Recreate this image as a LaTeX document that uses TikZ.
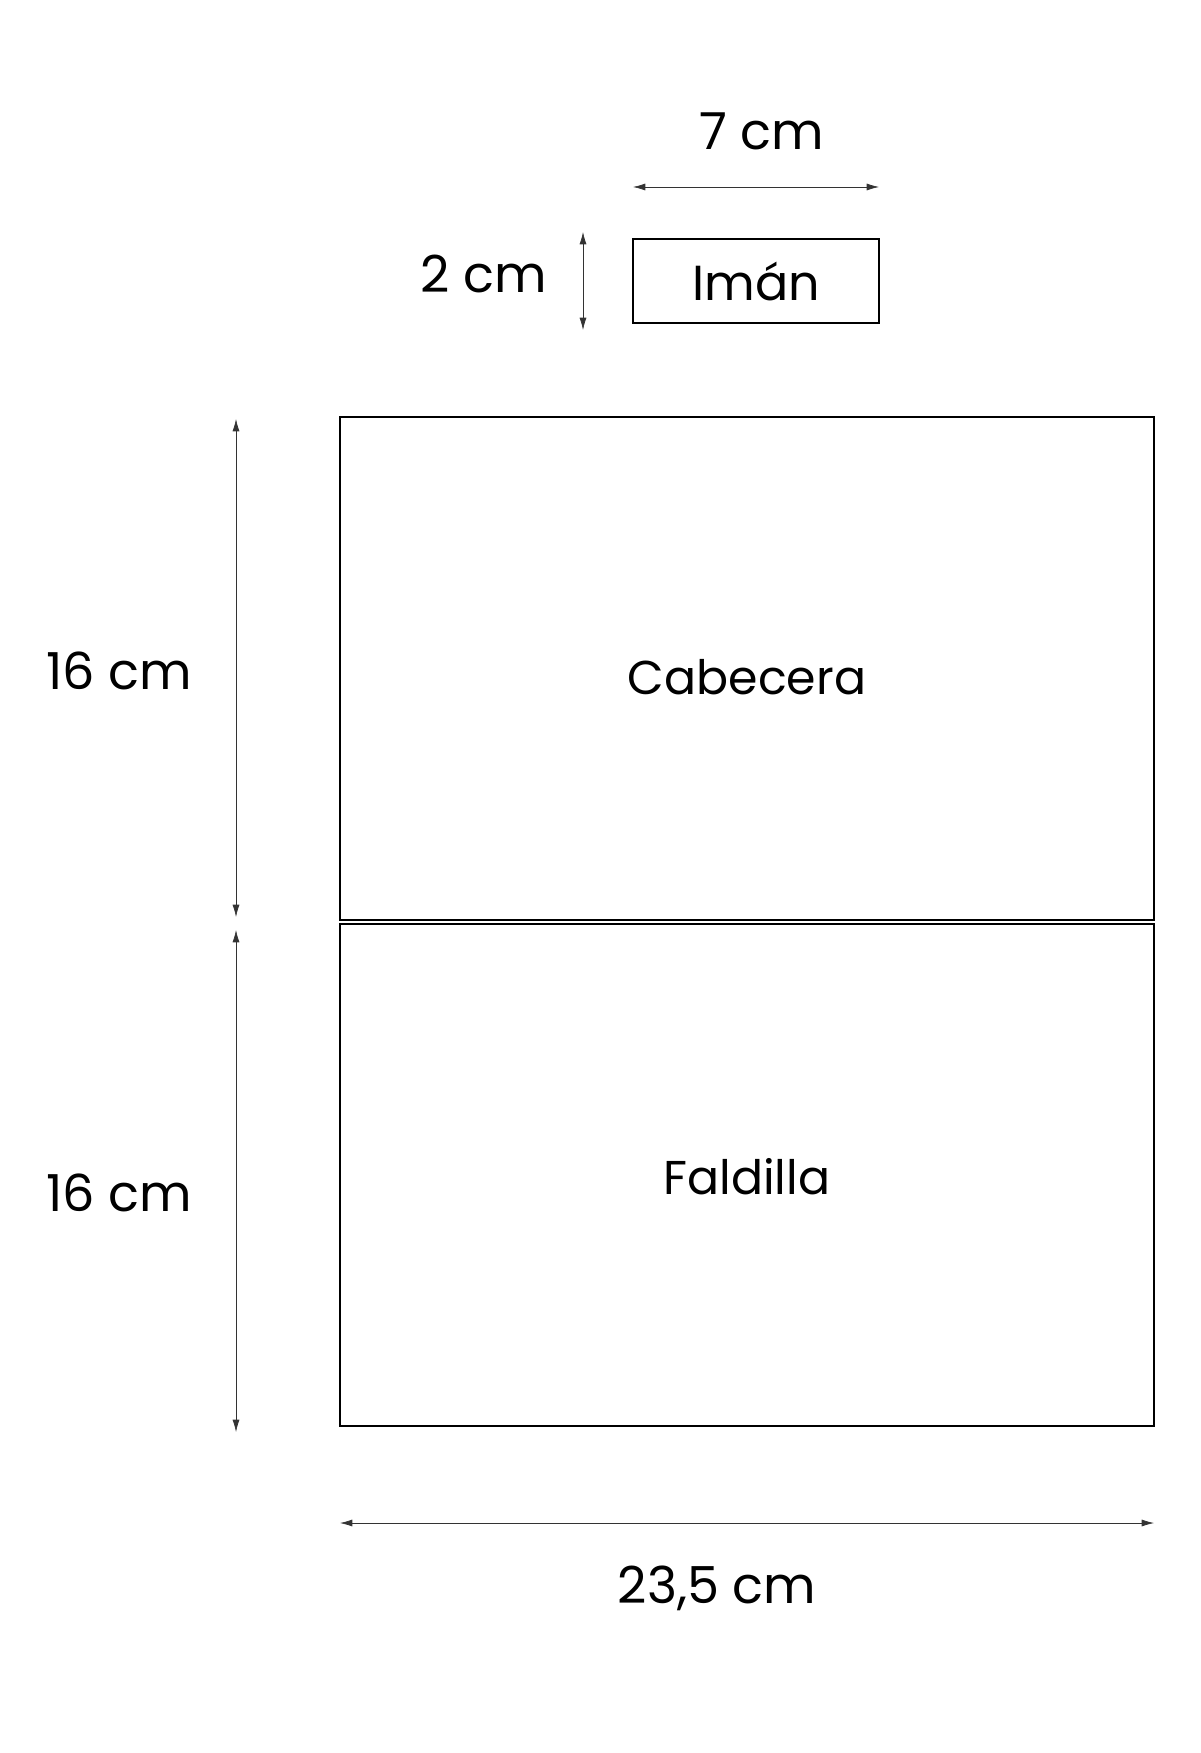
\documentclass[tikz,border=0pt]{standalone}
\usepackage{fontspec}
\setmainfont{Poppins}
\usetikzlibrary{positioning,arrows.meta}

\tikzset{
  piece/.style={draw, line width=1.2pt, inner sep=0pt, font=\fontsize{28}{30}\selectfont},
  piecetext/.style={font=\fontsize{27}{29}\selectfont},
  dimline/.style={{Latex[length=7pt,width=4pt]}-{Latex[length=7pt,width=4pt]}, line width=0.4pt, draw=black!80},
  dimtext/.style={font=\fontsize{29}{31}\selectfont}
}

\begin{document}
\begin{tikzpicture}[x=0.02cm,y=-0.02cm]
  \useasboundingbox (0,0) rectangle (1200,1753);

  \node [piece, minimum width=246*0.02cm, minimum height=84*0.02cm] (iman) at (756,281) {Imán};

  \node [piece, minimum width=814*0.02cm, minimum height=503*0.02cm] (cab) at (747,668.5) {};
  \node [piece, minimum width=814*0.02cm, minimum height=502*0.02cm] (fal) at (747,1175) {};
  \node [piecetext] (cabtxt) at (747,677) {Cabecera};
  \node [piecetext] (faltxt) at (747,1177) {Faldilla};

  %% dimension lines
  \coordinate (w1) at (633,187);
  \coordinate (w2) at (879,187);
  \draw [dimline] (w1) -- (w2);
  \node [dimtext] (wtxt) at (762,131) {7 cm};

  \coordinate (h1) at (583,232);
  \coordinate (h2) at (583,330);
  \draw [dimline] (h1) -- (h2);
  \node [dimtext] (htxt) at (484,274) {2 cm};

  \coordinate (a1) at (236,419);
  \coordinate (a2) at (236,917);
  \draw [dimline] (a1) -- (a2);
  \node [dimtext] (atxt) at (119,671) {16 cm};

  \coordinate (b1) at (236,930);
  \coordinate (b2) at (236,1432);
  \draw [dimline] (b1) -- (b2);
  \node [dimtext] (btxt) at (119,1193) {16 cm};

  \coordinate (c1) at (340,1523);
  \coordinate (c2) at (1154,1523);
  \draw [dimline] (c1) -- (c2);
  \node [dimtext] (ctxt) at (717,1588) {23,5 cm};

\end{tikzpicture}
\end{document}
